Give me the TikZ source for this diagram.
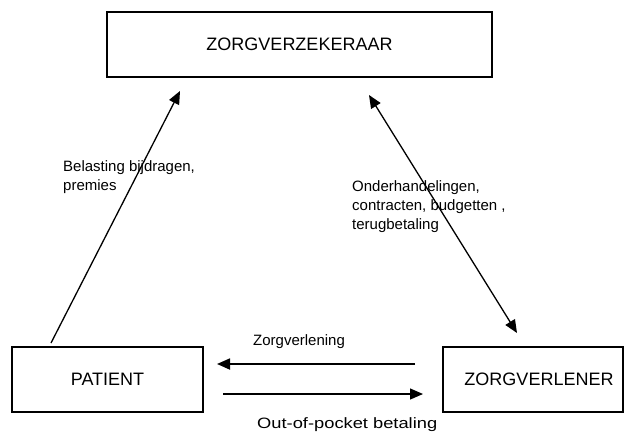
\documentclass[tikz,border=0pt]{standalone}
\usepackage{fontspec}
\usepackage{graphicx}
\setmainfont{Liberation Sans}
\usetikzlibrary{arrows.meta}
\begin{document}
\begin{tikzpicture}[x=1pt,y=-1pt,
  box/.style={draw, line width=2.6pt, inner sep=0pt, font=\fontsize{18}{22}\selectfont},
  lbl/.style={inner sep=0pt, font=\fontsize{15}{19}\selectfont, align=left},
  arr/.style={line width=1.3pt, -{Triangle[length=13pt,width=11pt]}},
  darr/.style={line width=1.3pt, {Triangle[length=13pt,width=11pt]}-{Triangle[length=13pt,width=11pt]}},
  ]
\useasboundingbox[fill=white] (0,0) rectangle (626,431);
% boxes
\node[box, minimum width=385pt, minimum height=65pt] (zv) at (299.5,44.5) {ZORGVERZEKERAAR};
\node[box, minimum width=191pt, minimum height=65pt] (pat) at (107.5,379.5) {PATIENT};
\node[box, minimum width=180pt, minimum height=65pt] (zl) at (533,379.5) {\hspace{12pt}ZORGVERLENER};
% connector end points
\coordinate (a1) at (51,343);
\coordinate (a2) at (180,91);
\coordinate (b1) at (369,95);
\coordinate (b2) at (517,333);
\coordinate (c1) at (415,364);
\coordinate (c2) at (217,364);
\coordinate (d1) at (223,394);
\coordinate (d2) at (423,394);
% connectors
\draw[arr] (a1) -- (a2);
\draw[darr] (b1) -- (b2);
\draw[arr, line width=1.8pt] (c1) -- (c2);
\draw[arr] (d1) -- (d2);
% labels
\node[lbl, anchor=north west] (l1) at (63,160) {Belasting bijdragen,\\premies};
\node[lbl, anchor=north west] (l2) at (352,180) {Onderhandelingen,\\contracten, budgetten ,\\terugbetaling};
\node[lbl, anchor=base west] (l3) at (253,345) {Zorgverlening};
\node[lbl, anchor=base west] (l4) at (257,428) {\scalebox{1.22}[1]{Out-of-pocket betaling}};
\end{tikzpicture}
\end{document}
